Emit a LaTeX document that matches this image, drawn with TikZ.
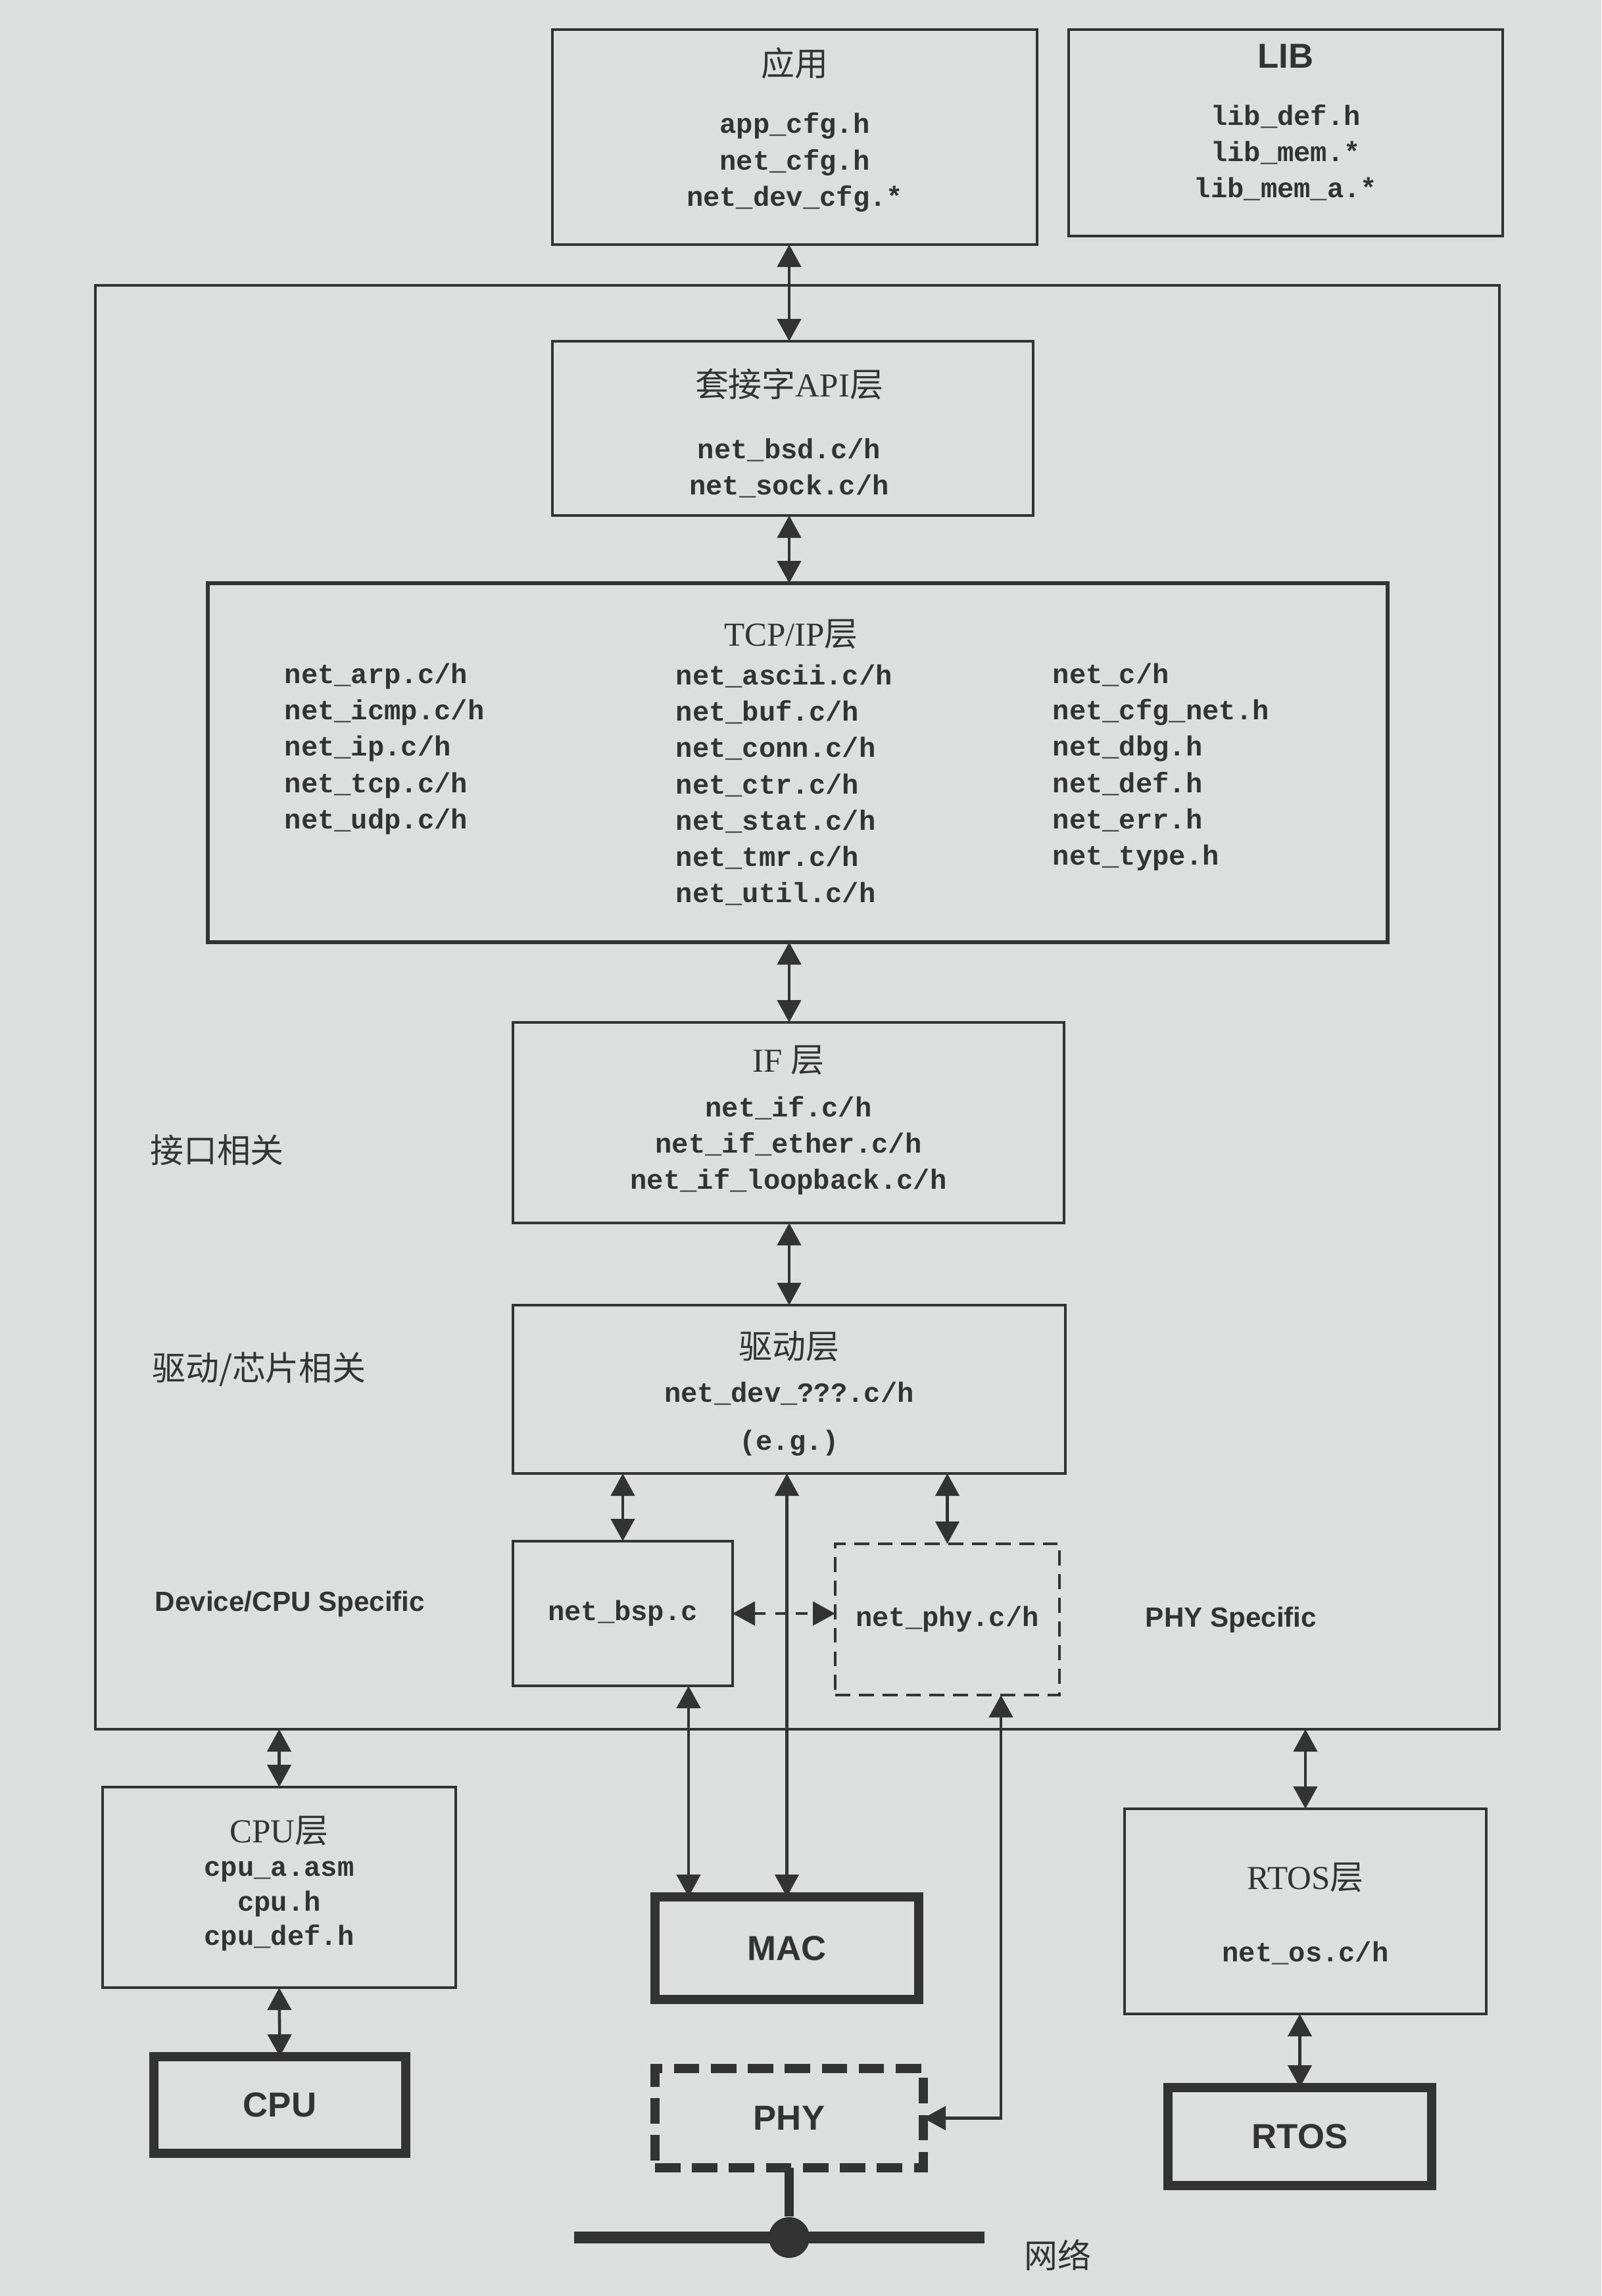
\documentclass[tikz,border=0pt]{standalone}
\usepackage{fontspec}
\setmainfont{Liberation Serif}
\setsansfont{Liberation Sans}
\setmonofont{Liberation Mono}
\newfontfamily\cjk{Noto Sans CJK SC}
\usepackage{tikz}
\usetikzlibrary{arrows.meta,calc,positioning}
\definecolor{paper}{HTML}{DDDFDE}
\definecolor{ink}{HTML}{333333}

\begin{document}
\begin{tikzpicture}[
  box/.style={draw=ink,line width=1.2pt,inner sep=0pt,outer sep=0pt},
  hwbox/.style={draw=ink,line width=3.8pt,inner sep=0pt,outer sep=0pt},
  link/.style={draw=ink,line width=1.3pt,{Triangle[length=0.34cm,width=0.36cm]}-{Triangle[length=0.34cm,width=0.36cm]}},
  ttl/.style={ink,font=\fontsize{14.5}{17}\selectfont},
  files/.style={ink,align=center,inner sep=0pt,font=\fontsize{12}{15.7}\selectfont\ttfamily\bfseries},
  hwtxt/.style={ink,font=\fontsize{15}{18}\selectfont\sffamily\bfseries},
  zone/.style={ink,font=\fontsize{12}{14}\selectfont\sffamily\bfseries},
  cnzone/.style={ink,font=\fontsize{14.5}{17}\selectfont\cjk}]
  \path[use as bounding box,fill=paper] (0,0) rectangle (24.35,-34.92);
  \coordinate (spine) at (12.0,0);

  \node[box,minimum width=21.35cm,minimum height=21.96cm] (stack) at (12.125,-15.32) {};
  \node[box,minimum width=7.37cm,minimum height=3.27cm] (app) at (12.085,-2.085) {};
  \node[box,minimum width=6.6cm,minimum height=3.14cm] (lib) at (19.55,-2.02) {};
  \node[box,minimum width=7.31cm,minimum height=2.65cm] (api) at (12.055,-6.515) {};
  \node[box,line width=1.5pt,minimum width=17.94cm,minimum height=5.46cm] (tcp) at (12.13,-11.6) {};
  \node[box,minimum width=8.38cm,minimum height=3.05cm] (ifl) at (11.99,-17.075) {};
  \node[box,minimum width=8.4cm,minimum height=2.56cm] (drv) at (12.0,-21.13) {};

  \node[ttl,cnzone] (appT) at (12.085,-0.96) {应用};
  \node[files] (appF) at (12.085,-2.47) {app\_cfg.h\\net\_cfg.h\\net\_dev\_cfg.*};
  \node[hwtxt] (libT) at (19.55,-0.85) {LIB};
  \node[files] (libF) at (19.55,-2.32) {lib\_def.h\\lib\_mem.*\\lib\_mem\_a.*};
  \node[ttl] (apiT) at (12.0,-5.84) {{\cjk 套接字}API{\cjk 层}};
  \node[files] (apiF) at (12.0,-7.12) {net\_bsd.c/h\\net\_sock.c/h};
  \node[ttl] (tcpT) at (12.03,-9.65) {TCP/IP{\cjk 层}};
  \node[files,align=left,anchor=west] (tcpA) at (4.32,-11.39)
    {net\_arp.c/h\\net\_icmp.c/h\\net\_ip.c/h\\net\_tcp.c/h\\net\_udp.c/h};
  \node[files,align=left,anchor=west] (tcpB) at (10.27,-11.94)
    {net\_ascii.c/h\\net\_buf.c/h\\net\_conn.c/h\\net\_ctr.c/h\\net\_stat.c/h\\net\_tmr.c/h\\net\_util.c/h};
  \node[files,align=left,anchor=west] (tcpC) at (16.0,-11.665)
    {net\_c/h\\net\_cfg\_net.h\\net\_dbg.h\\net\_def.h\\net\_err.h\\net\_type.h};
  \node[ttl] (ifT) at (11.99,-16.13) {IF {\cjk 层}};
  \node[files] (ifF) at (11.99,-17.42) {net\_if.c/h\\net\_if\_ether.c/h\\net\_if\_loopback.c/h};
  \node[ttl,cnzone] (drvT) at (12.0,-20.48) {驱动层};
  \node[files] (drvF) at (12.0,-21.19) {net\_dev\_???.c/h};
  \node[files] (drvE) at (12.0,-21.95) {(e.g.)};

  \node[box,files,minimum width=3.34cm,minimum height=2.2cm] (bsp) at (9.47,-24.54) {net\_bsp.c};
  \node[box,files,dash pattern=on 6.5pt off 3.7pt,minimum width=3.41cm,minimum height=2.3cm] (phyc) at (14.405,-24.63) {net\_phy.c/h};

  \node[cnzone] (zIf) at (3.30,-17.49) {接口相关};
  \node[cnzone] (zDrv) at (3.94,-20.83) {驱动/芯片相关};
  \node[zone] (zDev) at (4.41,-24.40) {Device/CPU Specific};
  \node[zone] (zPhy) at (18.72,-24.64) {PHY Specific};

  \node[box,minimum width=5.37cm,minimum height=3.05cm] (cpul) at (4.245,-28.705) {};
  \node[ttl] (cpulT) at (4.245,-27.85) {CPU{\cjk 层}};
  \node[files,font=\fontsize{12}{14.9}\selectfont\ttfamily\bfseries] (cpulF) at (4.245,-28.99) {cpu\_a.asm\\cpu.h\\cpu\_def.h};
  \node[hwbox,hwtxt,minimum width=3.83cm,minimum height=1.47cm] (cpu) at (4.255,-32.015) {CPU};

  \node[hwbox,hwtxt,minimum width=4.01cm,minimum height=1.56cm] (mac) at (11.965,-29.63) {MAC};
  \node[hwbox,hwtxt,dash pattern=on 11pt off 5pt,minimum width=4.08cm,minimum height=1.51cm] (phy) at (12.0,-32.215) {PHY};

  \node[box,minimum width=5.5cm,minimum height=3.12cm] (rtosl) at (19.85,-29.07) {};
  \node[ttl] (rtoslT) at (19.85,-28.56) {RTOS{\cjk 层}};
  \node[files] (rtoslF) at (19.85,-29.70) {net\_os.c/h};
  \node[hwbox,hwtxt,minimum width=4.01cm,minimum height=1.49cm] (rtos) at (19.765,-32.495) {RTOS};

  \draw[link] (app.south -| spine) -- (api.north -| spine);
  \draw[link] (api.south -| spine) -- (tcp.north -| spine);
  \draw[link] (tcp.south -| spine) -- (ifl.north -| spine);
  \draw[link] (ifl.south -| spine) -- (drv.north -| spine);
  \draw[link] (drv.south -| bsp.north) -- (bsp.north);
  \draw[link] (drv.south -| mac.north) -- (mac.north);
  \draw[link] (drv.south -| phyc.north) -- (phyc.north);
  \draw[link,dash pattern=on 5pt off 4pt] (bsp.east) -- (bsp.east -| phyc.west);
  \coordinate (bspx) at (10.47,0);
  \coordinate (phyx) at (15.22,0);
  \draw[link] (bsp.south -| bspx) -- (mac.north -| bspx);
  \draw[link] (phyc.south -| phyx) |- (phy.east);
  \draw[link] (stack.south -| cpul.north) -- (cpul.north);
  \draw[link] (cpul.south) -- (cpu.north);
  \draw[link] (stack.south -| rtosl.north) -- (rtosl.north);
  \draw[link] (rtosl.south -| rtos.north) -- (rtos.north);

  \coordinate (netL) at (8.73,-34.03);
  \coordinate (netR) at (14.97,-34.03);
  \draw[ink,line width=5pt] (netL) -- (netR);
  \node[circle,fill=ink,minimum size=0.62cm,inner sep=0pt] (tap) at (phy.south |- netL) {};
  \draw[ink,line width=4pt] (phy.south) -- (tap);
  \node[cnzone,anchor=west] (netT) at (15.45,-34.3) {网络};
\end{tikzpicture}
\end{document}
